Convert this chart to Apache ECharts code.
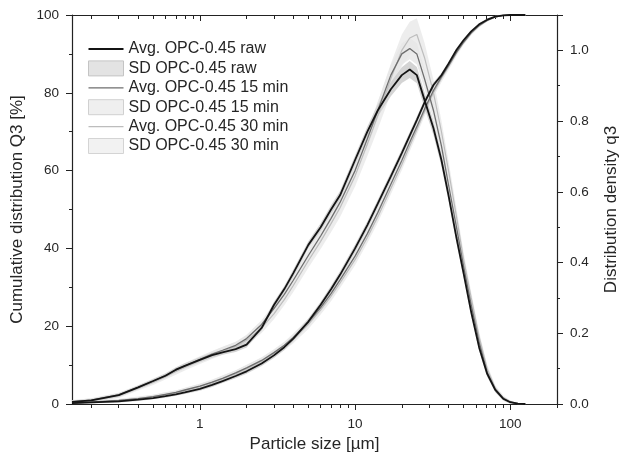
<!DOCTYPE html>
<html>
<head>
<meta charset="utf-8">
<script src="https://cdn.jsdelivr.net/npm/echarts@6/dist/echarts.min.js"></script>
<style>html,body{margin:0;padding:0;background:#fff;overflow:hidden}#c{position:absolute;left:0;top:0;width:620px;height:465px}</style>
</head>
<body>
<div id="c"></div>
<script>
// ---- data ----
const sizes = [0.15,0.2,0.3,0.4,0.5,0.6,0.7,0.8,1.0,1.2,1.4,1.7,2.0,2.5,3,3.5,4,5,6,7,8,10,12,14,17,20,22.5,25,28,32,36,40,45,50,56,63,71,80,90,100,112,125];

// cumulative distribution Q3 [%]
const cumRaw = [0.2,0.4,0.7,1.1,1.5,2.0,2.5,3.0,3.9,4.9,5.9,7.2,8.4,10.4,12.5,14.6,16.8,21.2,25.5,29.5,33.2,40,46,51.5,58.5,64.5,69,73,77.5,82,84.5,87.5,91,93.5,95.8,97.6,98.8,99.6,99.9,100,100,100];
const cum15  = [0.3,0.5,0.9,1.4,1.9,2.5,3.0,3.6,4.6,5.6,6.6,8.0,9.3,11.2,13.2,15.1,17.1,21.0,24.8,28.4,31.9,38.0,43.8,49.2,56.5,62.6,67.3,71.3,75.8,80.6,84.1,87.0,90.4,93.0,95.4,97.3,98.6,99.5,99.9,100,100,100];
const cum30  = [0.3,0.5,0.9,1.4,1.9,2.4,2.9,3.5,4.5,5.5,6.5,7.8,9.1,11.0,12.9,14.8,16.7,20.5,24.2,27.7,31.1,37.1,42.8,48.1,55.4,61.5,66.3,70.5,75.1,80.0,83.7,86.7,90.2,92.9,95.3,97.2,98.6,99.5,99.9,100,100,100];

// distribution density q3
const denRaw = [0.006,0.01,0.025,0.047,0.065,0.08,0.097,0.108,0.125,0.138,0.146,0.155,0.168,0.215,0.28,0.325,0.37,0.45,0.50,0.55,0.59,0.69,0.77,0.83,0.89,0.93,0.946,0.93,0.86,0.78,0.69,0.59,0.47,0.37,0.26,0.16,0.085,0.04,0.015,0.005,0.001,0];
const den15  = [0.006,0.011,0.026,0.047,0.065,0.08,0.096,0.108,0.126,0.141,0.152,0.166,0.185,0.225,0.27,0.31,0.35,0.42,0.475,0.525,0.57,0.66,0.75,0.83,0.93,0.99,1.005,0.99,0.92,0.83,0.73,0.62,0.50,0.39,0.28,0.175,0.09,0.042,0.016,0.005,0.001,0];
const den30  = [0.005,0.01,0.024,0.045,0.062,0.077,0.092,0.104,0.123,0.138,0.15,0.163,0.18,0.215,0.255,0.295,0.335,0.405,0.46,0.51,0.555,0.645,0.735,0.815,0.92,1.0,1.035,1.045,0.98,0.88,0.77,0.66,0.53,0.41,0.30,0.19,0.10,0.045,0.018,0.006,0.001,0];

// standard deviations
const sdCumRaw = [0.2,0.2,0.3,0.3,0.3,0.4,0.4,0.4,0.5,0.5,0.5,0.6,0.6,0.6,0.7,0.7,0.7,0.8,0.8,0.9,0.9,1.0,1.0,1.0,1.0,1.0,0.9,0.9,0.8,0.7,0.6,0.5,0.5,0.4,0.3,0.3,0.2,0.2,0.1,0.1,0.1,0.1];
const sdCum15  = [0.3,0.3,0.4,0.4,0.5,0.5,0.5,0.6,0.6,0.7,0.7,0.7,0.8,0.8,0.9,0.9,1.0,1.0,1.1,1.1,1.2,1.2,1.3,1.3,1.3,1.2,1.2,1.1,1.0,0.9,0.8,0.7,0.6,0.5,0.4,0.3,0.3,0.2,0.1,0.1,0.1,0.1];
const sdCum30  = [0.3,0.3,0.4,0.5,0.5,0.6,0.6,0.6,0.7,0.7,0.8,0.8,0.9,0.9,1.0,1.0,1.1,1.2,1.2,1.3,1.3,1.4,1.4,1.5,1.5,1.4,1.4,1.3,1.2,1.1,1.0,0.9,0.8,0.6,0.5,0.4,0.3,0.2,0.1,0.1,0.1,0.1];
const sdDenRaw = [0.004,0.004,0.005,0.005,0.006,0.006,0.006,0.007,0.007,0.007,0.007,0.008,0.008,0.008,0.009,0.009,0.01,0.01,0.011,0.012,0.012,0.013,0.015,0.017,0.02,0.022,0.024,0.023,0.022,0.02,0.018,0.016,0.014,0.013,0.012,0.01,0.008,0.007,0.005,0.004,0.002,0.001];
const sdDen15  = [0.005,0.005,0.006,0.006,0.007,0.007,0.008,0.008,0.009,0.009,0.01,0.01,0.011,0.012,0.013,0.014,0.015,0.016,0.017,0.018,0.019,0.021,0.023,0.025,0.028,0.03,0.03,0.03,0.028,0.026,0.024,0.021,0.019,0.017,0.015,0.012,0.01,0.008,0.006,0.004,0.002,0.001];
const sdDen30  = [0.005,0.006,0.007,0.007,0.008,0.008,0.009,0.009,0.01,0.011,0.011,0.012,0.013,0.014,0.015,0.016,0.018,0.02,0.022,0.024,0.026,0.03,0.034,0.038,0.042,0.045,0.046,0.046,0.042,0.037,0.032,0.028,0.024,0.02,0.017,0.014,0.011,0.008,0.006,0.004,0.002,0.001];

const xMajorTicks = [1,10,100];
const xMinorTicks = [0.2,0.3,0.4,0.5,0.6,0.7,0.8,0.9,2,3,4,5,6,7,8,9,20,30,40,50,60,70,80,90,200];

const names = ['Avg. OPC-0.45 raw','SD OPC-0.45 raw','Avg. OPC-0.45 15 min','SD OPC-0.45 15 min','Avg. OPC-0.45 30 min','SD OPC-0.45 30 min'];

// ---- chart ----
const FONT = '"Liberation Sans", Arial, sans-serif';
const TXT = '#262626';
const AX = '#222';
const chart = echarts.init(document.getElementById('c'), null, {renderer:'canvas', width:620, height:465});

function pairs(arr){ return sizes.map((x,i)=>[x, arr[i]]); }

function band(name, yIdx, avg, sd, fill, opacity){
  return {
    type:'custom', name: name, xAxisIndex:0, yAxisIndex:yIdx, z:1, silent:true,
    clip:true,
    itemStyle:{color: fill},
    data:[[sizes[0], avg[0]]],
    renderItem:function(params, api){
      const up = sizes.map((x,i)=>api.coord([x, avg[i]+sd[i]]));
      const lo = sizes.map((x,i)=>api.coord([x, Math.max(0, avg[i]-sd[i])])).reverse();
      return {type:'polygon', shape:{points: up.concat(lo)}, style:{fill: fill, opacity: opacity}};
    }
  };
}
function line(name, yIdx, arr, color, width, z){
  return {type:'line', name:name, xAxisIndex:0, yAxisIndex:yIdx, data:pairs(arr),
    symbol:'none', showSymbol:false, z:z, silent:true,
    lineStyle:{color:color, width:width}, itemStyle:{color:color}};
}

const colRaw = '#141414', col15 = '#6e6e6e', col30 = '#bdbdbd';

const series = [
  band(names[5],0,cum30,sdCum30,'#e9e9e9',0.8),
  band(names[5],1,den30,sdDen30,'#e9e9e9',0.8),
  band(names[3],0,cum15,sdCum15,'#e6e6e6',0.8),
  band(names[3],1,den15,sdDen15,'#e6e6e6',0.8),
  band(names[1],0,cumRaw,sdCumRaw,'#cfcfcf',0.9),
  band(names[1],1,denRaw,sdDenRaw,'#cfcfcf',0.9),
  line(names[4],0,cum30,col30,1.2,3),
  line(names[4],1,den30,col30,1.2,3),
  line(names[2],0,cum15,col15,1.3,4),
  line(names[2],1,den15,col15,1.3,4),
  line(names[0],0,cumRaw,colRaw,1.8,5),
  line(names[0],1,denRaw,colRaw,1.8,5)
];

function xAx(pos, ticks, len, inside, showLine, labels){
  return {type:'log', logBase:10, min:0.15, max:200, position:pos, gridIndex:0,
    axisLine:{show:showLine, onZero:false, lineStyle:{color:AX, width:1.2}},
    axisTick:{show:true, inside:inside, length:len, customValues:ticks, lineStyle:{color:AX, width:1}},
    axisLabel:labels ? {show:true, customValues:xMajorTicks, margin:13, color:TXT, fontFamily:FONT, fontSize:13.5} : {show:false},
    splitLine:{show:false}, minorTick:{show:false}, minorSplitLine:{show:false}
  };
}

const lineIcon = (h) => 'path://M0,0H35V' + h + 'H0Z';

const option = {
  animation:false,
  backgroundColor:'#fff',
  textStyle:{fontFamily:FONT},
  grid:{left:72, right:63, top:15, bottom:61, containLabel:false, outerBoundsMode:'none'},
  legend:{
    show:true, orient:'vertical', left:88, top:41, padding:0,
    itemWidth:35, itemHeight:15, itemGap:3.4, symbolKeepAspect:true,
    textStyle:{fontFamily:FONT, fontSize:16, color:TXT},
    selectedMode:false,
    data:[
      {name:names[0], icon:lineIcon(1.8), itemStyle:{color:colRaw}},
      {name:names[1], icon:'rect', itemStyle:{color:'#e3e3e3', borderColor:'#c4c4c4', borderWidth:1}},
      {name:names[2], icon:lineIcon(1.3), itemStyle:{color:col15}},
      {name:names[3], icon:'rect', itemStyle:{color:'#efefef', borderColor:'#d0d0d0', borderWidth:1}},
      {name:names[4], icon:lineIcon(1.2), itemStyle:{color:col30}},
      {name:names[5], icon:'rect', itemStyle:{color:'#f2f2f2', borderColor:'#d4d4d4', borderWidth:1}}
    ]
  },
  xAxis:[
    Object.assign(xAx('bottom', xMajorTicks, 6, false, true, true), {
      name:'Particle size [µm]', nameLocation:'middle', nameGap:26,
      nameTextStyle:{fontFamily:FONT, fontSize:17, color:TXT}}),
    xAx('bottom', xMinorTicks, 4, false, false, false),
    xAx('top', xMajorTicks, 6, true, true, false),
    xAx('top', xMinorTicks, 4, true, false, false)
  ],
  yAxis:[
    {type:'value', min:0, max:100, interval:20, position:'left',
      name:'Cumulative distribution Q3 [%]', nameLocation:'middle', nameGap:46,
      nameTextStyle:{fontFamily:FONT, fontSize:17, color:TXT},
      axisLine:{show:true, lineStyle:{color:AX, width:1.2}},
      axisTick:{show:true, inside:false, length:6, lineStyle:{color:AX}},
      minorTick:{show:true, splitNumber:2, length:3, lineStyle:{color:AX}},
      axisLabel:{margin:13, color:TXT, fontFamily:FONT, fontSize:13.5},
      splitLine:{show:false}},
    {type:'value', min:0, max:1.1, interval:0.2, position:'right',
      name:'Distribution density q3', nameLocation:'middle', nameGap:46,
      nameTextStyle:{fontFamily:FONT, fontSize:17, color:TXT},
      axisLine:{show:true, lineStyle:{color:AX, width:1.2}},
      axisTick:{show:true, inside:false, length:6, lineStyle:{color:AX}},
      minorTick:{show:true, splitNumber:2, length:3, lineStyle:{color:AX}},
      axisLabel:{margin:13, color:TXT, fontFamily:FONT, fontSize:13.5, showMaxLabel:false,
        formatter:function(v){return v.toFixed(1);}},
      splitLine:{show:false}}
  ],
  series: series
};
chart.setOption(option);
</script>
</body>
</html>
